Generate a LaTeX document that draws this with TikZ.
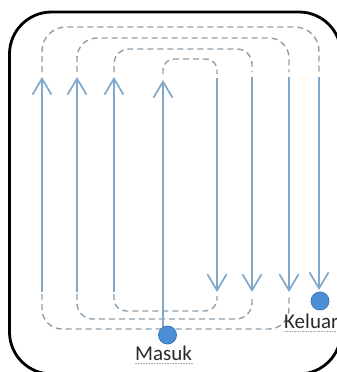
\documentclass[tikz,border=0pt]{standalone}
\usepackage{fontspec}
\setmainfont{Carlito}
\usetikzlibrary{arrows.meta}
\definecolor{flowc}{HTML}{7FA8CA}
\definecolor{loopc}{HTML}{8E9EAB}
\definecolor{dotfill}{HTML}{4C8FD6}
\definecolor{dotedge}{HTML}{3C78B8}
\definecolor{textc}{HTML}{2A2A2A}
\begin{document}
\begin{tikzpicture}[x=1pt,y=-1pt,
  frame/.style={line width=2.8pt, rounded corners=42pt},
  flow/.style={draw=flowc, line width=1.7pt, -{Straight Barb[length=16pt,width=19pt]}},
  loopline/.style={draw=loopc, line width=1.4pt, dash pattern=on 6pt off 4pt},
  portdot/.style={circle, fill=dotfill, draw=dotedge, line width=0.8pt, minimum size=18pt, inner sep=0pt},
  lbl/.style={text=textc, font=\fontsize{21}{21}\selectfont, inner sep=0pt},
  uline/.style={draw=gray!70, line width=0.6pt, densely dotted}]
\useasboundingbox (0,0) rectangle (337,372);
\begin{scope}
  \clip (0,0) rectangle (337,372);
  \draw[frame] (9.5,12) rectangle (341,374);
\end{scope}

% coordinates of line ends
\coordinate (Abot) at (42,292);   \coordinate (Atip) at (42,77);   \coordinate (Atop) at (42,72);
\coordinate (Bbot) at (77,292);   \coordinate (Btip) at (77,77);   \coordinate (Btop) at (77,72);
\coordinate (Cbot) at (114,292);  \coordinate (Ctip) at (114,77);  \coordinate (Ctop) at (114,72);
\coordinate (Dbot) at (163,330);  \coordinate (Dtip) at (163,80);  \coordinate (Dtop) at (163,74);
\coordinate (Estart) at (217,78); \coordinate (Etip) at (217,292); \coordinate (Etop) at (217,74);
\coordinate (Fstart) at (252,77); \coordinate (Ftip) at (252,292); \coordinate (Ftop) at (252,72);
\coordinate (Gstart) at (289,77); \coordinate (Gtip) at (289,292); \coordinate (Gtop) at (289,72);
\coordinate (Hstart) at (319,77); \coordinate (Htip) at (319,290); \coordinate (Htop) at (319,72);
\coordinate (Aend) at (42,294);  \coordinate (Bend) at (77,294);  \coordinate (Cend) at (114,294);
\coordinate (Eend) at (217,296); \coordinate (Fend) at (252,296); \coordinate (Gend) at (289,296);

% top dashed loops
\draw[loopline, rounded corners=24pt] (Atop) -- ++(0,-45) -| (Htop);
\draw[loopline, rounded corners=20pt] (Btop) -- ++(0,-34) -| (Gtop);
\draw[loopline, rounded corners=15pt] (Ctop) -- ++(0,-23) -| (Ftop);
\draw[loopline, rounded corners=11pt] (Dtop) -- ++(0,-15) -| (Etop);

% bottom dashed loops
\draw[loopline, rounded corners=12pt] (Cend) -- ++(0,17) -| (Eend);
\draw[loopline, rounded corners=16pt] (Bend) -- ++(0,25) -| (Fend);
\draw[loopline, rounded corners=20pt] (Aend) -- ++(0,35) -| (Gend);

% solid flow lines
\draw[flow] (Abot) -- (Atip);
\draw[flow] (Bbot) -- (Btip);
\draw[flow] (Cbot) -- (Ctip);
\draw[flow] (Dbot) -- (Dtip);
\draw[flow] (Estart) -- (Etip);
\draw[flow] (Fstart) -- (Ftip);
\draw[flow] (Gstart) -- (Gtip);
\draw[flow] (Hstart) -- (Htip);

% ports
\node[portdot] (masukdot) at (167.5,335) {};
\node[portdot] (keluardot) at (320,301) {};

% labels
\node[lbl, anchor=base] (masuk) at (163.5,360) {Masuk};
\node[lbl, anchor=base west] (keluar) at (284,328) {Keluar};
\draw[uline] (masuk.base west) ++(0,3) -- ++(59,0);
\draw[uline] (keluar.base west) ++(0,3) -- ++(56,0);
\end{tikzpicture}
\end{document}
